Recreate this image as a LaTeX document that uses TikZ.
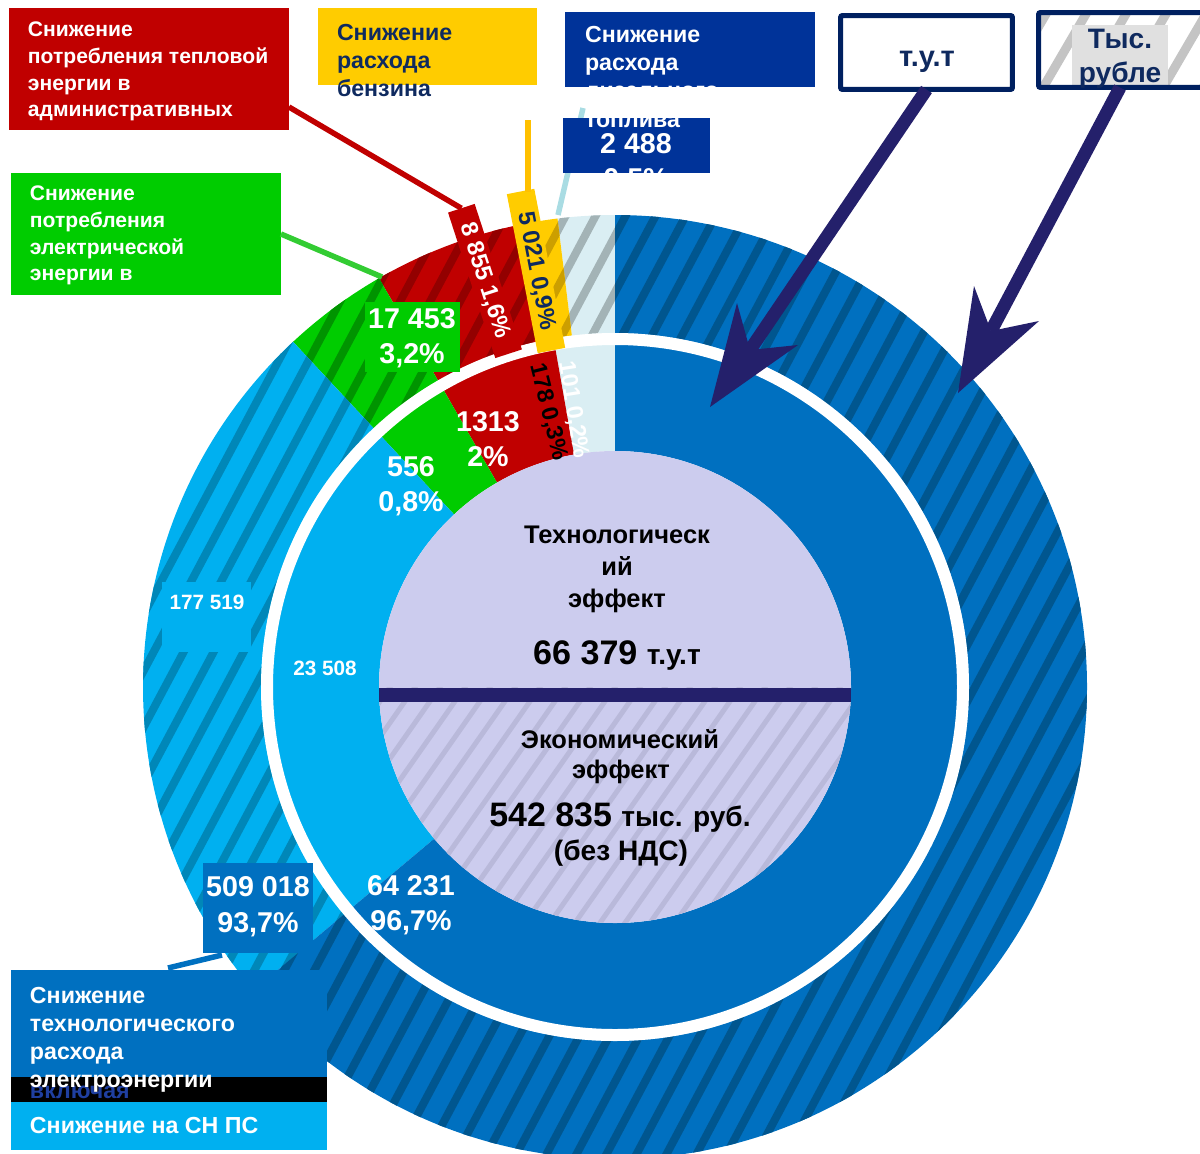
\documentclass[tikz,border=0pt]{standalone}
\usepackage{fontspec}
\setmainfont{Liberation Sans}
\usetikzlibrary{calc}
\definecolor{dblue}{HTML}{0070C0}
\definecolor{dbluehat}{HTML}{00568F}
\definecolor{lblue}{HTML}{00B0F0}
\definecolor{lbluehat}{HTML}{0087B8}
\definecolor{grn}{HTML}{00CC00}
\definecolor{grnhat}{HTML}{009400}
\definecolor{rd}{HTML}{C00000}
\definecolor{rdhat}{HTML}{930000}
\definecolor{lcyan}{HTML}{DAEEF3}
\definecolor{lcyanhat}{HTML}{A3B3B6}
\definecolor{ylw}{HTML}{FFCC00}
\definecolor{ylwline}{HTML}{FFC000}
\definecolor{ylwhat}{HTML}{CC9F00}
\definecolor{lav}{HTML}{CCCCEE}
\definecolor{lavhat}{HTML}{B9B9DA}
\definecolor{navy}{HTML}{24206B}
\definecolor{boxnavy}{HTML}{002060}
\definecolor{dieselblue}{HTML}{003399}
\definecolor{txtnavy}{HTML}{0F2A5F}
\definecolor{cyanline}{HTML}{A9DCE3}
\definecolor{greenline}{HTML}{33CC33}
\definecolor{vklcol}{HTML}{1F3FA0}
\definecolor{tysgray}{HTML}{C4C4C4}
\definecolor{tysbg}{HTML}{E0E0E0}

\newcommand\fsz[2]{\fontsize{#1}{#2}\selectfont\bfseries}
\newcommand\ringpath[4]{(#1:#4) arc[start angle=#1,end angle=#2,radius=#4] -- (#2:#3) arc[start angle=#2,end angle=#1,radius=#3] -- cycle}
\newcommand\hsector[6]{%
  \fill[#5] \ringpath{#1}{#2}{#3}{#4};
  \begin{scope}
    \clip \ringpath{#1}{#2}{#3}{#4};
    \foreach \hk in {-20,...,20}{\draw[#6,line width=0.16cm] ({\hk*30-300},-564) -- ({\hk*30+300},564);}
  \end{scope}}

\begin{document}
\begin{tikzpicture}[x=0.02cm,y=0.02cm,
  every node/.style={inner sep=0pt,outer sep=0pt},
  boxlbl/.style={anchor=north west,align=left,text=white},
  num/.style={text=white,align=center},
  disctxt/.style={anchor=base,text=black},
  lead/.style={line width=0.11cm},
  shaft/.style={draw=navy,line width=0.26cm},
  rect/.style={anchor=north west}]
\useasboundingbox (0,0) rectangle (1200,-1153);
\clip (0,0) rectangle (1200,-1153);

% ---------- rings ----------
\begin{scope}[shift={(615,-687)}]
  \hsector{90}{97}{354}{472}{lcyan}{lcyanhat}
  \hsector{97}{100}{354}{472}{ylw}{ylwhat}
  \hsector{100}{120}{354}{472}{rd}{rdhat}
  \hsector{120}{133}{354}{472}{grn}{grnhat}
  \hsector{133}{220}{354}{472}{lblue}{lbluehat}
  \hsector{220}{450}{354}{472}{dblue}{dbluehat}
  \fill[lcyan] \ringpath{90}{100}{236}{354};
  \fill[rd] \ringpath{100}{120}{236}{354};
  \fill[grn] \ringpath{120}{133}{236}{354};
  \fill[lblue] \ringpath{133}{220}{236}{354};
  \fill[dblue] \ringpath{220}{450}{236}{354};
  \draw[white,line width=0.24cm] (0,0) circle[radius=348];
  \fill[lav] (0,0) circle[radius=236];
  \begin{scope}
    \clip (-236,0) arc[start angle=180,end angle=360,radius=236] -- cycle;
    \foreach \hk in {-14,...,14}{\draw[lavhat,line width=0.1cm] ({\hk*25-170},-243) -- ({\hk*25+170},243);}
  \end{scope}
  \fill[navy] (-236,-1) rectangle (236,-15);
\end{scope}

% ---------- centre texts ----------
\node[disctxt,font=\fsz{14.5}{18}] (tA) at (617,-543) {Технологическ};
\node[disctxt,font=\fsz{14.5}{18}] (tB) at (617,-575) {ий};
\node[disctxt,font=\fsz{14.5}{18}] (tC) at (617,-607) {эффект};
\node[disctxt,font=\fsz{19.4}{23}] (tD) at (617,-664) {66 379 {\fsz{16}{19}т.у.т}};
\node[disctxt,font=\fsz{14.5}{18}] (eA) at (620,-748) {Экономический};
\node[disctxt,font=\fsz{14.5}{18}] (eB) at (621,-778) {эффект};
\node[disctxt,font=\fsz{19.3}{23}] (eC) at (620,-826) {542 835 {\fsz{16}{19}тыс. руб.}};
\node[disctxt,font=\fsz{16}{19}] (eD) at (621,-860) {(без НДС)};

% ---------- data labels on rings ----------
\node[num,font=\fsz{16.3}{19.8}] (n1313) at (488,-439) {1313\\2\%};
\node[num,font=\fsz{16.3}{19.8}] (n556) at (411,-486) {556\\0,8\%};
\node[num,font=\fsz{16.3}{19.8}] (n64231) at (411,-905) {64 231\\96,7\%};
\node[num,font=\fsz{11.8}{14}] (n23508) at (325,-668) {23 508};
\node[fill=lblue,minimum width=1.78cm,minimum height=1.4cm,rect] (b177) at (162,-582) {};
\node[num,font=\fsz{11.8}{14}] (n177) at (207,-602) {177 519};
\node[fill=grn,minimum width=1.9cm,minimum height=1.42cm] (b17453) at (412.5,-337) {};
\node[num,font=\fsz{16.3}{19.8}] (n17453) at (412,-338) {17 453\\3,2\%};
\node[text=black,rotate=-76,font=\fsz{13.2}{15}] (n178) at (548,-412) {178 0,3\%};
\node[text=white,rotate=-81,font=\fsz{13.2}{15}] (n101) at (573,-410) {101 0,2\%};

% ---------- boxes and leader lines ----------
\node[fill=rd,rect,minimum width=5.6cm,minimum height=2.44cm] (redbox) at (9,-8) {};
\node[fill=grn,rect,minimum width=5.4cm,minimum height=2.44cm] (greenbox) at (11,-173) {};
\node[fill=ylw,rect,minimum width=4.38cm,minimum height=1.54cm] (ylwbox) at (318,-8) {};
\node[fill=dieselblue,rect,minimum width=5cm,minimum height=1.5cm] (dies1) at (565,-12) {};
\coordinate (cyA) at (583,-108);
\coordinate (cyB) at (558,-215);
\draw[lead,cyanline] (cyA) -- (cyB);
\node[fill=dieselblue,rect,minimum width=2.94cm,minimum height=1.1cm] (dies2) at (563,-118) {};

\node[fill=rd,text=white,rotate=-72,minimum width=3.06cm,minimum height=0.56cm,font=\fsz{13.5}{16}] (lab8855) at (485,-281) {8 855 1,6\%};
\node[fill=ylw,text=txtnavy,rotate=-79,minimum width=3.24cm,minimum height=0.56cm,font=\fsz{13.5}{16}] (lab5021) at (536,-271) {5 021 0,9\%};

\coordinate (ylA) at (528,-120);
\draw[lead,ylwline] (ylA) -- (ylA |- lab5021.west);
\draw[lead,rd] ($(redbox.south east)+(0,23)$) -- (lab8855.west);
\coordinate (grE) at (382,-277);
\draw[lead,greenline] (greenbox.east) -- (grE);

% ---------- label texts ----------
\begin{scope}
  \clip (redbox.south west) rectangle (redbox.north east);
  \node[boxlbl,font=\fsz{12}{15.2}] (redtxt) at (28,-22) {Снижение\\потребления тепловой\\энергии в\\административных\\зданиях};
\end{scope}
\begin{scope}
  \clip (greenbox.south west) rectangle (greenbox.north east);
  \node[boxlbl,font=\fsz{12}{15.2}] (grtxt) at (30,-186) {Снижение\\потребления\\электрической\\энергии в\\административных\\зданиях};
\end{scope}
\node[boxlbl,text=txtnavy,font=\fsz{13.2}{15.9}] (ylwtxt) at (337,-24) {Снижение\\расхода\\бензина};
\begin{scope}
  \clip (dies1.south west) rectangle (dies1.north east) (dies2.south west) rectangle (dies2.north east);
  \node[boxlbl,font=\fsz{13.2}{16.1}] (diestxt) at (585,-26) {Снижение\\расхода\\дизельного\\топлива};
  \node[num,font=\fsz{16.3}{19.8}] (n2488) at (636,-163) {2 488\\0,5\%};
\end{scope}

% ---------- bottom-left group ----------
\node[fill=dblue,minimum width=2.2cm,minimum height=1.8cm] (b509) at (258,-908) {};
\node[num,font=\fsz{16.3}{20.5}] (n509) at (258,-907) {509 018\\93,7\%};
\node[fill=dblue,rect,minimum width=6.32cm,minimum height=2.14cm] (techbox) at (11,-970) {};
\node[fill=black,rect,minimum width=6.32cm,minimum height=0.5cm] (band) at (11,-1077) {};
\node[fill=lblue,rect,minimum width=6.32cm,minimum height=0.96cm] (snbox) at (11,-1102) {};
\draw[lead,dblue] ($(techbox.north west)+(157,2)$) -- ($(b509.south west)+(19,-2)$);
\node[anchor=base west,text=vklcol,font=\fsz{13.2}{16}] (vkl) at (30,-1098) {включая};
\node[boxlbl,font=\fsz{13.2}{16}] (techtxt) at (30,-987) {Снижение\\технологического\\расхода\\электроэнергии};
\node[boxlbl,font=\fsz{13.2}{16}] (sntxt) at (30,-1117) {Снижение на СН ПС};

% ---------- legend boxes ----------
\node[draw=boxnavy,fill=white,line width=0.1cm,rounded corners=0.04cm,minimum width=3.44cm,minimum height=1.48cm] (tut) at (926.5,-52.5) {};
\node[anchor=base,text=txtnavy,font=\fsz{16.5}{19}] (tuttxt) at (927,-66) {т.у.т};
\node[fill=white,minimum width=3.53cm,minimum height=1.5cm] (tys) at (1126.75,-50) {};
\begin{scope}
  \clip (tys.south west) rectangle (tys.north east);
  \foreach \hk in {-2,...,8}{\draw[tysgray,line width=0.18cm] ({990+\hk*40},-110) -- ({990+\hk*40+70},10);}
  \fill[tysbg] (1072,-25) rectangle (1168,-88);
\end{scope}
\draw[boxnavy,line width=0.1cm,rounded corners=0.04cm] (tys.south west) rectangle (tys.north east);
\node[align=center,text=txtnavy,font=\fsz{16}{19.3}] (tystxt) at (1120,-59) {Тыс.\\рубле};

% ---------- arrows ----------
\coordinate (tip1) at (710,-407);
\coordinate (a1) at (798,-345);
\coordinate (b1) at (737,-303);
\coordinate (k1) at (750,-350);
\draw[shaft] (tut.south) -- (k1);
\fill[navy] (tip1) -- (a1) -- (k1) -- (b1) -- cycle;
\coordinate (tip2) at (958,-393);
\coordinate (a2) at (1039,-321);
\coordinate (b2) at (974,-286);
\coordinate (k2) at (991,-331);
\draw[shaft] ($(tys.south)+(-6.75,0)$) -- (k2);
\fill[navy] (tip2) -- (a2) -- (k2) -- (b2) -- cycle;
\end{tikzpicture}
\end{document}
